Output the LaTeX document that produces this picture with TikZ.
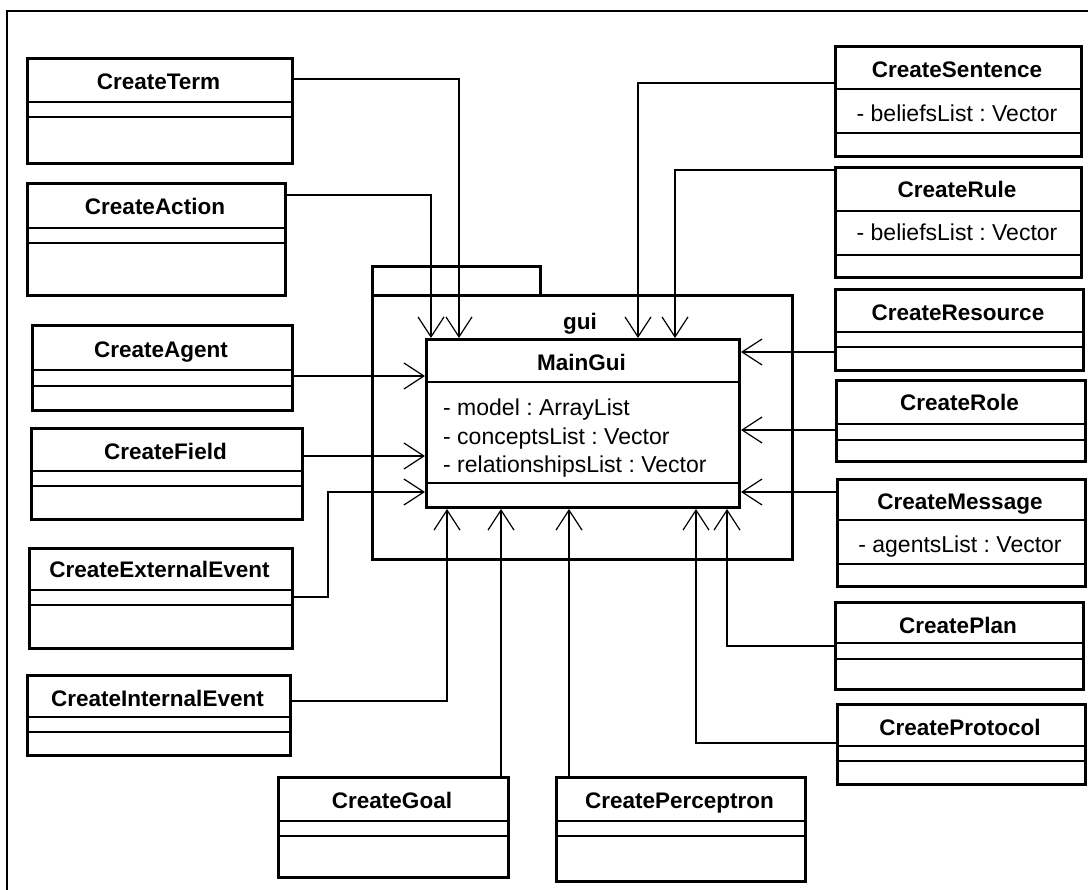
\documentclass[tikz,border=0pt]{standalone}
\usepackage{fontspec}
\setmainfont{Liberation Sans}
\usetikzlibrary{arrows.meta}
\frenchspacing
\newcommand\umlclass[9]{%
  \node[cls, minimum width={#4-#2}, minimum height={#5-#3}] (#1) at (#2,#3) {};
  \draw[sep] (#1.west |- 0,#6) -- (#1.east |- 0,#6) (#1.west |- 0,#7) -- (#1.east |- 0,#7);
  \node[ttl] (#1-t) at ({(#2+#4)/2},{#9+8}) {#8};
}
\begin{document}
\begin{tikzpicture}[x=1pt,y=-1pt,
  cls/.style={draw, line width=3pt, inner sep=0pt, anchor=north west},
  sep/.style={line width=1.2pt},
  conn/.style={line width=1.2pt, -{Straight Barb[length=20pt,width=26pt]}},
  ttl/.style={font=\fontsize{22.5}{25}\selectfont\bfseries, inner sep=0pt, anchor=base},
  att/.style={font=\fontsize{23}{26}\selectfont, inner sep=0pt, anchor=base}]
\useasboundingbox (0,0) rectangle (1088,890);
\clip (0,0) rectangle (1088,890);
\fill[white] (0,0) rectangle (1088,890);
\draw[line width=2.5pt] (7,900) -- (7,11) -- (1100,11);

% package
\node[cls, minimum width=168, minimum height=29] (tab) at (371,265) {};
\node[cls, minimum width=420, minimum height=264] (pkg) at (371,294) {};
\node[ttl] (pkgname) at (580,330) {gui};

% main class
\umlclass{main}{425}{338}{738}{506}{382}{483}{MainGui}{363}
\node[att, anchor=base west] (a1) at (443,416) {- model : ArrayList};
\node[att, anchor=base west] (a2) at (443,445) {- conceptsList : Vector};
\node[att, anchor=base west] (a3) at (443,473) {- relationshipsList : Vector};

% left
\umlclass{term}{26}{57}{291}{162}{102}{117}{CreateTerm}{82}
\umlclass{action}{26}{182}{284}{294}{228}{243}{CreateAction}{207}
\umlclass{agent}{31}{324}{291}{409}{370}{386}{CreateAgent}{350}
\umlclass{field}{30}{427}{301}{518}{471}{486}{CreateField}{452}
\umlclass{ext}{28}{547}{291}{647}{590}{605}{CreateExternalEvent}{570}
\umlclass{int}{26}{674}{289}{754}{717}{732}{CreateInternalEvent}{698}
% bottom
\umlclass{goal}{277}{776}{507}{876}{821}{836}{CreateGoal}{800}
\umlclass{perc}{555}{776}{804}{880}{821}{836}{CreatePerceptron}{800}
% right
\umlclass{sentence}{834}{45}{1080}{155}{89}{133}{CreateSentence}{70}
\node[att] (sentence-a) at (957,122) {- beliefsList : Vector};
\umlclass{rule}{834}{166}{1080}{276}{211}{255}{CreateRule}{190}
\node[att] (rule-a) at (957,241) {- beliefsList : Vector};
\umlclass{resource}{834}{288}{1082}{369}{332}{347}{CreateResource}{313}
\umlclass{role}{835}{379}{1084}{460}{424}{440}{CreateRole}{403}
\umlclass{message}{836}{478}{1084}{585}{520}{564}{CreateMessage}{502}
\node[att] (message-a) at (960,553) {- agentsList : Vector};
\umlclass{plan}{834}{601}{1082}{688}{643}{659}{CreatePlan}{625}
\umlclass{protocol}{836}{703}{1084}{783}{746}{761}{CreateProtocol}{727}

% connectors
\draw[conn] (term.east |- 0,79) -| (main.north -| 459,0);
\draw[conn] (action.east |- 0,195) -| (main.north -| 431,0);
\draw[conn] (sentence.west |- 0,83) -| (main.north -| 638,0);
\draw[conn] (rule.west |- 0,170) -| (main.north -| 675,0);
\draw[conn] (agent.east |- 0,376) -- (main.west |- 0,376);
\draw[conn] (field.east |- 0,456) -- (main.west |- 0,456);
\draw[conn] (ext.east |- 0,597) -| (328,492) -- (main.west |- 0,492);
\draw[conn] (int.east |- 0,701) -| (main.south -| 447,0);
\draw[conn] (goal.north -| 501,0) -- (main.south -| 501,0);
\draw[conn] (perc.north -| 569,0) -- (main.south -| 569,0);
\draw[conn] (protocol.west |- 0,743) -| (main.south -| 696,0);
\draw[conn] (plan.west |- 0,646) -| (main.south -| 727,0);
\draw[conn] (resource.west |- 0,352) -- (main.east |- 0,352);
\draw[conn] (role.west |- 0,430) -- (main.east |- 0,430);
\draw[conn] (message.west |- 0,492) -- (main.east |- 0,492);
\end{tikzpicture}
\end{document}
